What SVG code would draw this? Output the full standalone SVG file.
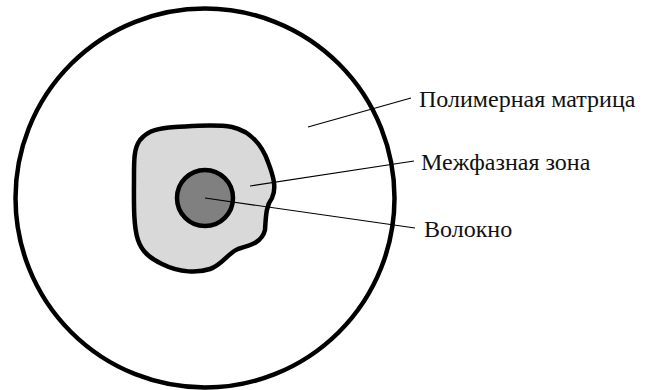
<svg xmlns="http://www.w3.org/2000/svg" width="647" height="390" viewBox="0 0 647 390">
<style>
.o{stroke:#000;stroke-width:4.5;}
.l{stroke:#000;stroke-width:1.2;fill:none;}
text{font-family:"Liberation Serif","Times New Roman",serif;font-size:24px;fill:#111;}
</style>
<rect width="647" height="390" fill="#fff"/>
<g id="matrix"><circle class="o" cx="205" cy="198" r="189.5" fill="#fff"/></g>
<g id="interphase"><path class="o" fill="#d9d9d9" d="M140,140 C148,130 160,128 175,127 C195,126 215,124 232,127 C250,131 262,145 268,162 C273,175 277,188 272,198 C266,206 266,215 265,230 C262,242 252,245 238,249 C228,253 222,265 210,269 C198,273 180,273 162,264 C150,258 142,252 138,240 C133,225 134,200 134,175 C134,160 134,148 140,140 Z"/></g>
<g id="fiber"><circle class="o" cx="205" cy="198" r="28" fill="#808080"/></g>
<g id="connectors">
<line class="l" x1="308" y1="127" x2="411" y2="98"/>
<line class="l" x1="250" y1="186" x2="414" y2="161"/>
<line class="l" x1="205" y1="198" x2="415" y2="228"/>
</g>
<g id="labels">
<text x="419" y="107">Полимерная матрица</text>
<text x="421" y="170">Межфазная зона</text>
<text x="424" y="237">Волокно</text>
</g>
</svg>
